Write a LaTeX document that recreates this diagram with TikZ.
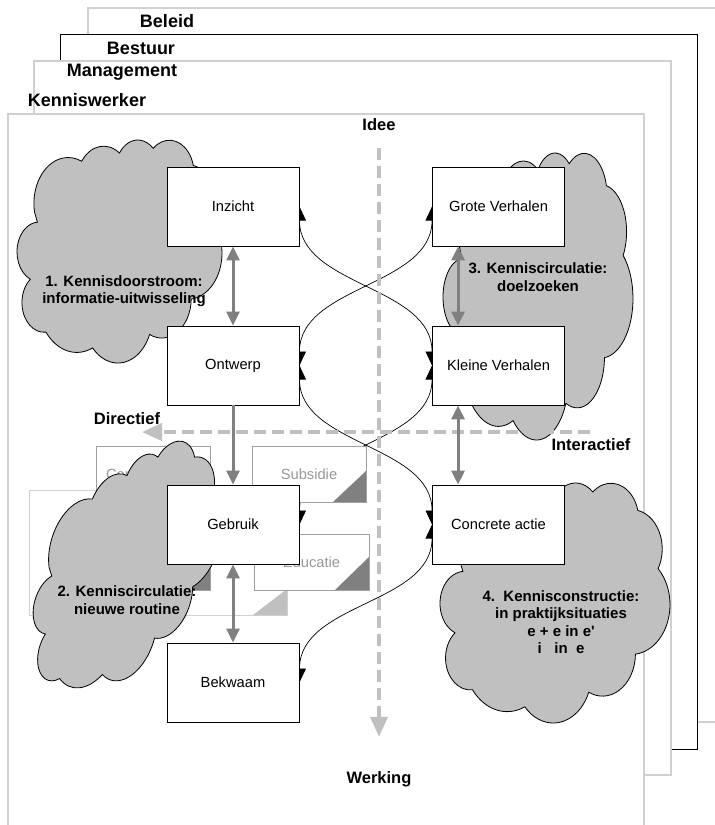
\documentclass[tikz,border=0pt]{standalone}
\usepackage{fontspec}
\setmainfont{Liberation Sans}
\usetikzlibrary{arrows.meta}
\usetikzlibrary{calc}

\definecolor{lightline}{HTML}{D0D0D0}
\definecolor{cardline}{HTML}{A0A0A0}
\definecolor{cardtext}{HTML}{999999}
\definecolor{arrowgray}{HTML}{808080}
\definecolor{cloudgray}{HTML}{C0C0C0}

\pgfdeclarelayer{frames}
\pgfdeclarelayer{curves}
\pgfdeclarelayer{cards}
\pgfdeclarelayer{clouds}
\pgfdeclarelayer{axes}
\pgfsetlayers{frames,curves,cards,clouds,axes,main}

\tikzset{
  wolk/.pic={
    \path[pic actions] (3.900, 14.370)
      arc[x radius=6.753, y radius=9.190, start angle=-190.49, delta angle=123.78]
      arc[x radius=5.333, y radius=7.267, start angle=-144.10, delta angle=89.95]
      arc[x radius=4.365, y radius=5.945, start angle=-145.81, delta angle=99.72]
      arc[x radius=4.857, y radius=6.595, start angle=-130.99, delta angle=117.24]
      arc[x radius=5.333, y radius=7.273, start angle=-78.71, delta angle=109.03]
      arc[x radius=6.775, y radius=9.220, start angle=-46.27, delta angle=130.27]
      arc[x radius=5.785, y radius=7.867, start angle=0.625, delta angle=114.03]
      arc[x radius=6.752, y radius=9.215, start angle=22.45, delta angle=115.17]
      arc[x radius=7.720, y radius=10.543, start angle=66.24, delta angle=75.71]
      arc[x radius=4.360, y radius=5.918, start angle=-274.94, delta angle=146.74]
      arc[x radius=4.345, y radius=5.945, start angle=-246.83, delta angle=152.52]
      -- cycle;
  }
}

\begin{document}
\begin{tikzpicture}[x=1pt, y=-1pt,
    stage/.style={draw, fill=white, line width=0.9pt, minimum width=132, minimum height=79, inner sep=0pt,
      font=\fontsize{14.7}{17}\selectfont,
      path picture={\fill (path picture bounding box.south east) -- ++(-33pt,0pt) -- ++(33pt,33pt) -- cycle;}},
    card/.style={draw=cardline, fill=white, line width=0.9pt, minimum width=114, minimum height=56, inner sep=0pt,
      text=cardtext, font=\fontsize{14.7}{17}\selectfont,
      path picture={\fill[arrowgray] (path picture bounding box.south east) -- ++(-33pt,0pt) -- ++(33pt,31pt) -- cycle;}},
    layer/.style={draw=lightline, fill=white, line width=1.3pt},
    layername/.style={font=\fontsize{18}{20}\selectfont\bfseries},
    axisname/.style={font=\fontsize{16.5}{19}\selectfont\bfseries},
    puff/.style={draw, fill=cloudgray, line width=0.8pt, transform shape},
    puffname/.style={font=\fontsize{15}{17.5}\selectfont\bfseries, align=center},
    cycleline/.style={line width=0.7pt, {Triangle[length=14pt,width=13pt]}-{Triangle[length=14pt,width=13pt]}},
    link/.style={arrowgray, line width=3pt, -{Triangle[length=14pt,width=13pt]}},
    twolink/.style={arrowgray, line width=3pt, {Triangle[length=14pt,width=13pt]}-{Triangle[length=14pt,width=13pt]}},
    axisline/.style={cloudgray, line width=4pt, dash pattern=on 12pt off 6pt, -{Triangle[length=20pt,width=17pt]}}]
  \useasboundingbox (0, 0) rectangle (715, 825);

  % organisation levels
  \begin{pgfonlayer}{frames}
    \draw[layer] (88, 8) rectangle (740, 722);
    \draw[layer, draw=black, line width=1pt] (60, 34) rectangle (697, 749);
    \draw[layer] (34, 61) rectangle (671, 775);
    \draw[layer] (8, 114) rectangle (644, 840);
  \end{pgfonlayer}
  \node[layername] (beleid) at (167, 21) {Beleid};
  \node[layername] (bestuur) at (141, 48) {Bestuur};
  \node[layername] (management) at (122, 72) {Management};
  \node[layername] (kenniswerker) at (87, 100) {Kenniswerker};

  % stages
  \node[stage] (inzicht) at (233, 206.5) {Inzicht};
  \node[stage] (ontwerp) at (233, 365.5) {Ontwerp};
  \node[stage] (gebruik) at (233, 524.5) {Gebruik};
  \node[stage] (bekwaam) at (233, 682.5) {Bekwaam};
  \node[stage] (grote) at (498.5, 206.5) {Grote Verhalen};
  \node[stage] (kleine) at (498.5, 365.5) {Kleine Verhalen};
  \node[stage] (concreet) at (498.5, 524.5) {Concrete actie};

  \begin{pgfonlayer}{curves}
    \draw[cycleline] (inzicht.east) .. controls +(0, 80) and +(0, -80) .. (kleine.west);
    \draw[cycleline] (grote.west) .. controls +(0, 80) and +(0, -80) .. (ontwerp.east);
    \draw[cycleline] (ontwerp.east) .. controls +(0, 80) and +(0, -80) .. (concreet.west);
    \draw[cycleline] (kleine.west) .. controls +(0, 80) and +(0, -80) .. (gebruik.east);
    \draw[cycleline] (concreet.west) .. controls +(0, 80) and +(0, -80) .. (bekwaam.east);
  \end{pgfonlayer}

  % instruments
  \begin{pgfonlayer}{cards}
    \node[card, draw=lightline, minimum width=258, minimum height=125,
      path picture={\fill[cloudgray] (path picture bounding box.south east) -- ++(-34pt,0pt) -- ++(34pt,26pt) -- cycle;}]
      (achter) at (158, 552.5) {};
    \node[card] (onder) at (153, 562) {};
    \node[card] (communicatie) at (153, 474) {Communicatie};
    \node[card] (subsidie) at (309, 474) {Subsidie};
    \node[card, minimum width=115, path picture={\fill[arrowgray] (path picture bounding box.south east) -- ++(-34pt,0pt) -- ++(34pt,33pt) -- cycle;}]
      (educatie) at (311.5, 562) {Educatie};
  \end{pgfonlayer}

  % knowledge clouds
  \begin{pgfonlayer}{clouds}
    \begin{scope}[shift={(17, 140)}, x=5.0757pt, y=-5.0151pt, shift={(-0.457, -0.022)}]
      \pic[puff] (wolk1) {wolk};
    \end{scope}
    \begin{scope}[shift={(127, 570.5)}, yslant=0.45, x=4.65pt, y=-4.8351pt, shift={(-20.651, -22.255)}]
      \pic[puff] (wolk2) {wolk};
    \end{scope}
    \begin{scope}[shift={(443, 153)}, x=4.7043pt, y=-6.4544pt, shift={(-0.457, -0.022)}]
      \pic[puff] (wolk3) {wolk};
    \end{scope}
    \begin{scope}[shift={(440, 483)}, x=5.6946pt, y=-5.3974pt, shift={(-0.457, -0.022)}]
      \pic[puff] (wolk4) {wolk};
    \end{scope}
  \end{pgfonlayer}
  \node[puffname] (tekst1) at (124, 291) {1. Kennisdoorstroom:\\informatie-uitwisseling};
  \node[puffname] (tekst2) at (127, 600) {2. Kenniscirculatie:\\nieuwe routine};
  \node[puffname] (tekst3) at (538, 277) {3. Kenniscirculatie:\\doelzoeken};
  \node[puffname] (tekst4) at (561, 622) {4.\ \ Kennisconstructie:\\in praktijksituaties\\e + e in e\textquotesingle\\i\ \ \ in\ \ e};

  % axes
  \node[axisname] (idee) at (379, 125) {Idee};
  \node[axisname] (werking) at (379, 779) {Werking};
  \node[axisname] (directief) at (127, 419) {Directief};
  \node[axisname] (interactief) at (591, 445) {Interactief};
  \coordinate (rechts) at (590, 432);
  \coordinate (links) at (142, 432);
  \begin{pgfonlayer}{axes}
    \draw[axisline, shorten <=13pt, shorten >=31pt] (idee) -- (werking);
    \draw[axisline] (rechts) -- (links);
  \end{pgfonlayer}

  \draw[twolink] (inzicht) -- (ontwerp);
  \draw[link] (ontwerp) -- (gebruik);
  \draw[twolink] (gebruik) -- (bekwaam);
  \draw[twolink] ([xshift=26pt]grote.south west) -- ([xshift=26pt]kleine.north west);
  \draw[twolink] ([xshift=26pt]kleine.south west) -- ([xshift=26pt]concreet.north west);
\end{tikzpicture}
\end{document}
